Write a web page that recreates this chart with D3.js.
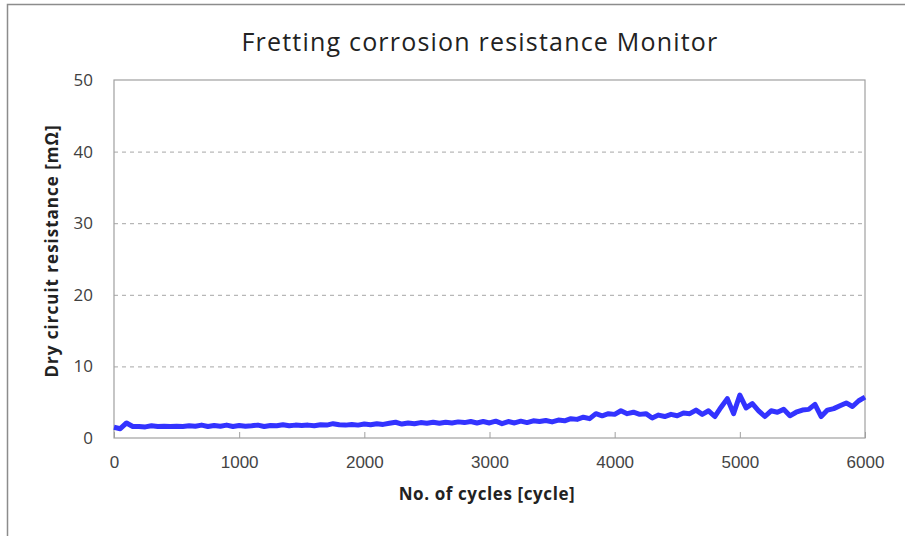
<!DOCTYPE html>
<meta charset="utf-8">
<style>
body { margin: 0; background: #fff; }
.grid line { stroke: #a6a6a6; stroke-dasharray: 4,4; }
.grid path { display: none; }
</style>
<body>
<script src="https://d3js.org/d3.v7.min.js"></script>
<script>

// chart data
var cycles = d3.range(0, 6001, 50);
var resistance = [
  1.5, 1.3, 2.1, 1.6, 1.6, 1.55, 1.7, 1.6, 1.65, 1.6,
  1.65, 1.6, 1.7, 1.65, 1.8, 1.6, 1.75, 1.65, 1.8, 1.6,
  1.75, 1.65, 1.7, 1.8, 1.6, 1.75, 1.7, 1.85, 1.7, 1.8,
  1.75, 1.8, 1.7, 1.85, 1.8, 2.0, 1.85, 1.8, 1.9, 1.8,
  1.95, 1.85, 2.0, 1.9, 2.05, 2.2, 1.95, 2.1, 2.0, 2.15,
  2.05, 2.2, 2.05, 2.2, 2.1, 2.25, 2.15, 2.3, 2.1, 2.3,
  2.1, 2.35, 2.0, 2.3, 2.1, 2.35, 2.15, 2.4, 2.3, 2.45,
  2.25, 2.5, 2.4, 2.7, 2.6, 2.9, 2.7, 3.4, 3.1, 3.4,
  3.3, 3.8, 3.4, 3.6, 3.3, 3.4, 2.8, 3.2, 3.0, 3.3,
  3.1, 3.5, 3.4, 3.9, 3.3, 3.8, 3.0, 4.3, 5.5, 3.4,
  6.0, 4.2, 4.8, 3.8, 3.0, 3.8, 3.6, 4.0, 3.1, 3.6,
  3.9, 4.0, 4.7, 3.0, 3.9, 4.1, 4.5, 4.9, 4.4, 5.2,
  5.7
];
var xTicks = [0, 1000, 2000, 3000, 4000, 5000, 6000];
var yTicks = [0, 10, 20, 30, 40, 50];

var W = 905, H = 536;
var margin = {top: 80, right: 40, bottom: 98, left: 114},
    width = W - margin.left - margin.right,
    height = H - margin.top - margin.bottom;

var svg = d3.select("body").append("svg")
    .attr("width", W)
    .attr("height", H);

// outer frame (only top and left edges visible)
svg.append("path")
    .attr("d", "M7.5," + H + "V4.5H" + W)
    .attr("fill", "none")
    .attr("stroke", "#8c8c8c")
    .attr("stroke-width", 1.5);

var x = d3.scaleLinear().domain([0, 6000]).range([0, width]);
var y = d3.scaleLinear().domain([0, 50]).range([height, 0]);

var g = svg.append("g")
    .attr("transform", "translate(" + margin.left + "," + margin.top + ")");

// dashed gridlines
g.append("g")
    .attr("class", "grid")
    .call(d3.axisLeft(y).tickValues(yTicks.slice(1, -1)).tickSize(-width).tickFormat(""));

// plot border
g.append("rect")
    .attr("width", width)
    .attr("height", height)
    .attr("fill", "none")
    .attr("stroke", "#a0a0a0")
    .attr("stroke-width", 1.2);

// x axis
var xAxis = g.append("g")
    .attr("transform", "translate(0," + height + ")")
    .call(d3.axisBottom(x).tickValues(xTicks).tickSize(-6).tickPadding(18).tickFormat(d3.format("d")));
xAxis.select(".domain").remove();
xAxis.selectAll("line").attr("stroke", "#a0a0a0");
xAxis.selectAll("text")
    .attr("font-family", "'Liberation Sans', sans-serif")
    .attr("font-size", 17)
    .attr("font-weight", 300)
    .attr("fill", "#444");

// y axis
var yAxis = g.append("g")
    .call(d3.axisLeft(y).tickValues(yTicks).tickSize(0).tickPadding(21));
yAxis.select(".domain").remove();
yAxis.selectAll("text")
    .attr("font-family", "'Open Sans', sans-serif")
    .attr("font-size", 17)
    .attr("fill", "#404040");

// data line
g.append("path")
    .datum(cycles.map(function(c, i) { return [c, resistance[i]]; }))
    .attr("fill", "none")
    .attr("stroke", "#3333ff")
    .attr("stroke-width", 5)
    .attr("stroke-linejoin", "round")
    .attr("d", d3.line()
        .x(function(d) { return x(d[0]); })
        .y(function(d) { return y(d[1]); }));

// title
svg.append("text")
    .attr("x", 480)
    .attr("y", 51)
    .attr("text-anchor", "middle")
    .attr("font-family", "'Open Sans', sans-serif")
    .attr("font-size", 25)
    .attr("letter-spacing", 1.2)
    .attr("fill", "#222")
    .text("Fretting corrosion resistance Monitor");

// axis titles
svg.append("text")
    .attr("x", 487)
    .attr("y", 500)
    .attr("text-anchor", "middle")
    .attr("font-family", "'Open Sans', sans-serif")
    .attr("font-size", 17)
    .attr("font-weight", "bold")
    .attr("letter-spacing", 0.6)
    .attr("fill", "#222")
    .text("No. of cycles [cycle]");

svg.append("text")
    .attr("transform", "translate(58,251) rotate(-90)")
    .attr("text-anchor", "middle")
    .attr("font-family", "'Open Sans', sans-serif")
    .attr("font-size", 17)
    .attr("font-weight", "bold")
    .attr("letter-spacing", 1)
    .attr("fill", "#222")
    .text("Dry circuit resistance [m\u03A9]");

</script>
</body>
